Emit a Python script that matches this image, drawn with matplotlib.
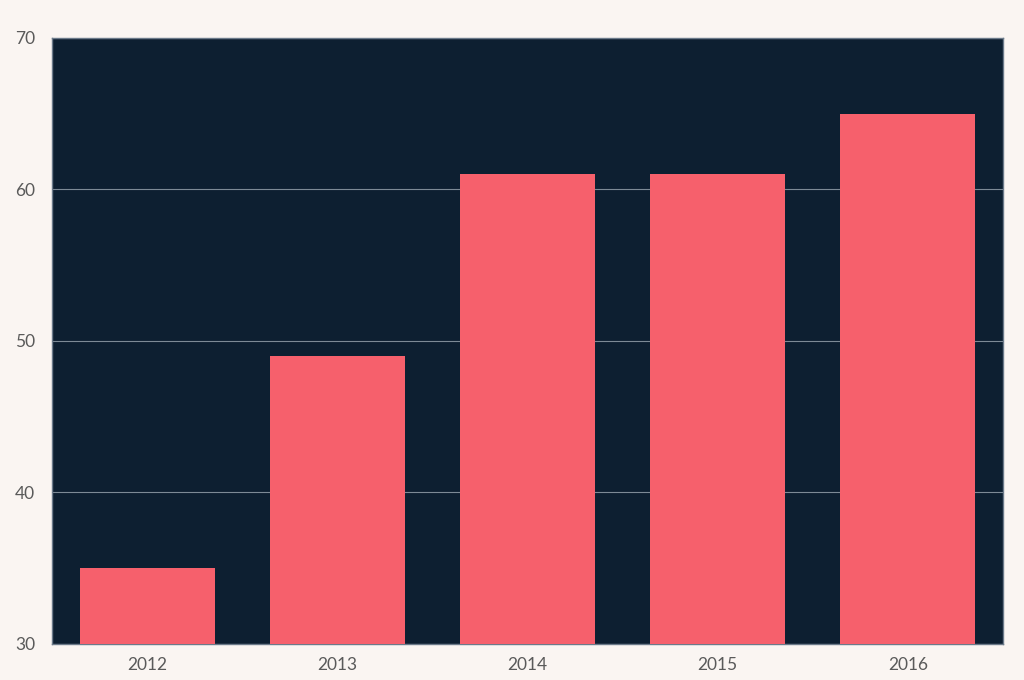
import matplotlib
matplotlib.use("Agg")
import matplotlib.pyplot as plt

years = ["2012", "2013", "2014", "2015", "2016"]
values = [35, 49, 61, 61, 65]
yticks = [30, 40, 50, 60, 70]

fig = plt.figure(figsize=(10.24, 6.8), dpi=100, facecolor="#faf5f2")
ax = fig.add_axes([52/1024, 36/680, 951/1024, 606/680])
ax.set_facecolor("#0d1f31")
x = list(range(len(years)))
ax.bar(x, values, width=0.71, color="#f6606c", zorder=3)
ax.set_xlim(-0.5, len(years) - 0.5)
ax.set_ylim(30, 70)
ax.set_yticks(yticks)
ax.set_xticks(x)
ax.set_xticklabels(years)
ax.grid(axis="y", color="#7d8a96", linewidth=0.8, zorder=1)
ax.tick_params(length=0, labelsize=12.5, labelcolor="#5a5a5a")
ax.tick_params(axis="x", pad=9)
ax.tick_params(axis="y", pad=12)
for lab in ax.get_xticklabels() + ax.get_yticklabels():
    lab.set_family(["Lato", "DejaVu Sans"])
for s in ax.spines.values():
    s.set_color("#6b7a8a")
    s.set_linewidth(1.0)
fig.savefig("out.png", dpi=100, facecolor=fig.get_facecolor())
